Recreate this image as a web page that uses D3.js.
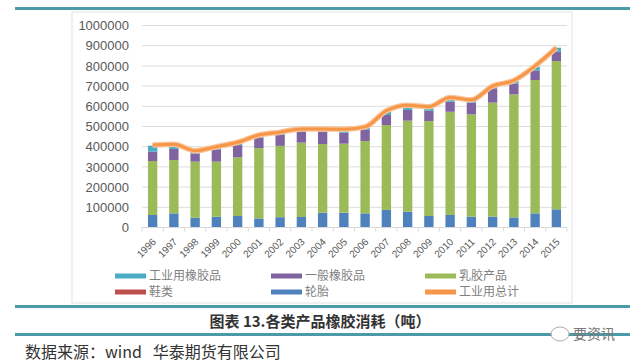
<!DOCTYPE html>
<html>
<head>
<meta charset="utf-8">
<script src="https://cdn.jsdelivr.net/npm/d3@7"></script>
<style>
  body { margin: 0; background: #fff; }
  svg { display: block; font-family: "Liberation Sans", "Noto Sans CJK SC", sans-serif; }
</style>
</head>
<body>
<svg></svg>
<script>
const years = ["1996","1997","1998","1999","2000","2001","2002","2003","2004","2005","2006","2007","2008","2009","2010","2011","2012","2013","2014","2015"]
const tyres      = [62000,70000,48000,53000,57000,45000,51000,52000,73000,73000,70000,87000,78000,57000,62000,54000,54000,50000,70000,90000]
const footwear   = [0,0,0,0,0,0,0,0,0,0,0,0,0,0,0,0,0,0,0,0]
const latex      = [267000,264000,278000,273000,290000,348000,353000,368000,340000,342000,358000,420000,451000,470000,511000,506000,564000,609000,660000,734000]
const general    = [46000,55000,41000,61000,61000,52000,54000,54000,61000,54000,55000,50000,53000,51000,50000,58000,71000,54000,46000,46000]
const industrial = [30000,20000,10000,10000,10000,10000,10000,10000,8000,10000,10000,15000,15000,12000,15000,10000,10000,12000,20000,20000]
const total      = [408000,412000,380000,400000,422000,458000,472000,488000,488000,486000,498000,578000,605000,598000,644000,632000,700000,728000,800000,890000]
const yTicks = [0,100000,200000,300000,400000,500000,600000,700000,800000,900000,1000000]

// stack order bottom -> top
const seriesNames = ["轮胎","鞋类","乳胶产品","一般橡胶品","工业用橡胶品"]
const seriesData = [tyres, footwear, latex, general, industrial]
const colors = {"工业用橡胶品": "#4bacc6", "一般橡胶品": "#8064a2", "乳胶产品": "#9bbb59", "鞋类": "#c0504d", "轮胎": "#4f81bd", "工业用总计": "#f79646"}
const legendOrder = ["工业用橡胶品","一般橡胶品","乳胶产品","鞋类","轮胎","工业用总计"]

const svg = d3.select("svg").attr("width", 640).attr("height", 363)
const teal = "#4a9aa8"

// frame lines
svg.append("rect").attr("x", 15).attr("y", 7).attr("width", 615).attr("height", 3).style("fill", teal)
svg.append("rect").attr("x", 72).attr("y", 12).attr("width", 500).attr("height", 291).style("fill", "#fff").style("stroke", "#e2e2e2")
svg.append("rect").attr("x", 15).attr("y", 305).attr("width", 615).attr("height", 3).style("fill", teal)
svg.append("rect").attr("x", 15).attr("y", 333).attr("width", 615).attr("height", 3).style("fill", teal)

const table = years.map((yr, i) => { const o = {year: yr}; seriesNames.forEach((n, k) => o[n] = seriesData[k][i]); return o })
const stack = d3.stack().keys(seriesNames)(table)

const margin = {left: 142, right: 73, top: 25.5, bottom: 135.5},
      width = 640 - margin.left - margin.right,
      height = 363 - margin.top - margin.bottom,
      chart = svg.append("g").attr("transform", `translate(${margin.left},${margin.top})`)

const x = d3.scaleBand().domain(years).range([0, width]).paddingInner(0.56).paddingOuter(0.28),
      xb = d3.scaleBand().domain(years).range([0, width]),
      y = d3.scaleLinear().domain([0, 1000000]).range([height, 0])

chart.append("g").selectAll("line").data(yTicks.slice(1)).join("line")
  .attr("x1", 0).attr("x2", width).attr("y1", d => y(d)).attr("y2", d => y(d))
  .style("stroke", "#dcdcdc").style("stroke-width", 1)

chart.append("g").call(d3.axisLeft(y).tickValues(yTicks).tickSize(0).tickPadding(13).tickFormat(d3.format("d")))
  .call(g => g.select(".domain").remove())
  .call(g => g.selectAll("text").style("font-size", "13px").style("fill", "#595959").style("font-family", "Liberation Sans"))

chart.append("g").selectAll("g").data(stack).join("g").style("fill", d => colors[d.key])
  .selectAll("rect").data(d => d).join("rect")
  .attr("x", d => x(d.data.year)).attr("width", x.bandwidth())
  .attr("y", d => y(d[1])).attr("height", d => y(d[0]) - y(d[1]))

// x axis
const xAxis = chart.append("g").attr("transform", `translate(0,${height})`)
xAxis.append("line").attr("x1", 0).attr("x2", width).style("stroke", "#d9d9d9")
xAxis.selectAll("line.tick").data(years.concat(["end"])).join("line").attr("class", "tick")
  .attr("x1", (d, i) => i * xb.step()).attr("x2", (d, i) => i * xb.step()).attr("y1", 0).attr("y2", 4).style("stroke", "#d9d9d9")
xAxis.selectAll("text").data(years).join("text").text(d => d)
  .attr("transform", d => `translate(${xb(d) + xb.bandwidth() / 2 + 4},${15}) rotate(-45)`)
  .style("text-anchor", "end").style("font-size", "10px").style("fill", "#595959")

const line = d3.line().x((d, i) => xb(years[i]) + xb.bandwidth() / 2).y(d => y(d)).curve(d3.curveMonotoneX)
chart.append("path").datum(total).attr("d", line).style("fill", "none").style("stroke", "#f9c49a").style("stroke-width", 5.5)
chart.append("path").datum(total).attr("d", line).style("fill", "none").style("stroke", colors["工业用总计"]).style("stroke-width", 3)

// legend
const legend = svg.append("g").selectAll("g").data(legendOrder).join("g")
  .attr("transform", (d, i) => `translate(${[115, 271, 425][i % 3]},${i < 3 ? 276 : 292})`)
legend.append("rect").attr("x", 0).attr("y", -2.5).attr("width", 31).attr("height", 5).style("fill", d => colors[d])
legend.append("text").text(d => d).attr("x", 34).attr("dy", "0.35em")
  .style("font-size", "12px").style("fill", "#7f7f7f").style("font-family", "Noto Sans CJK SC")

svg.append("text").text("图表 13.各类产品橡胶消耗（吨）").attr("x", 320).attr("y", 322).attr("dy", "0.35em")
  .style("text-anchor", "middle").style("font-size", "15px").style("font-weight", 700).style("fill", "#333")
  .style("font-family", "Noto Sans CJK SC")

svg.append("text").text("数据来源：wind   华泰期货有限公司").attr("x", 25).attr("y", 352).attr("dy", "0.35em")
  .attr("xml:space", "preserve")
  .style("font-size", "16px").style("fill", "#333").style("font-family", "Noto Sans CJK SC")

// watermark
svg.append("ellipse").attr("cx", 560).attr("cy", 334).attr("rx", 9).attr("ry", 7).style("fill", "#fff").style("stroke", "#aaa")
svg.append("text").text("要资讯").attr("x", 573).attr("y", 334).attr("dy", "0.35em")
  .style("font-size", "14px").style("fill", "#777").style("font-family", "Noto Sans CJK SC")
</script>
</body>
</html>
